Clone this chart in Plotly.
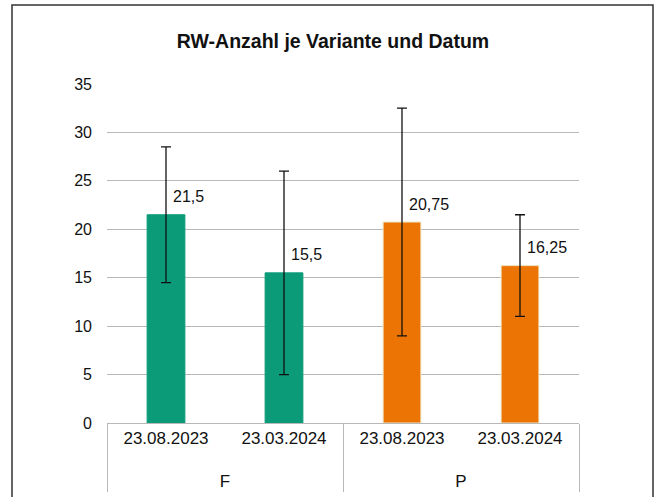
import plotly.graph_objects as go

# Data
groups = ["F", "F", "P", "P"]
dates = ["23.08.2023", "23.03.2024", "23.08.2023", "23.03.2024"]
values = [21.5, 15.5, 20.75, 16.25]
errors = [7.0, 10.5, 11.75, 5.25]
bar_colors = ["#0B9B79", "#0B9B79", "#EC7405", "#EC7405"]
bar_edge = ["#0B9B79", "#0B9B79", "#EDE6C4", "#EDE6C4"]
title_text = "RW-Anzahl je Variante und Datum"
y_ticks = [0, 5, 10, 15, 20, 25, 30, 35]

W, H = 657, 497
L, R, T, B = 107, 579, 84, 423  # plot area in pixels
font = "Liberation Sans, Arial, Helvetica, sans-serif"

# extra blank line under each date pushes the group labels lower
date_labels = [d + "<br> " for d in dates]

fig = go.Figure()
fig.add_trace(go.Bar(
    x=[groups, date_labels],
    y=values,
    width=0.32,
    marker=dict(color=bar_colors, line=dict(color=bar_edge, width=1)),
    error_y=dict(type="data", array=errors, visible=True,
                 color="#111111", thickness=1.3, width=5),
    hoverinfo="skip",
))

for i, v in enumerate(values):
    fig.add_annotation(
        x=i, y=v, xref="x", yref="y",
        text=f"{v:g}".replace(".", ","),
        showarrow=False, xanchor="left", yanchor="middle",
        xshift=5, yshift=18,
        font=dict(family=font, size=16, color="#111111"),
    )

pw, ph = R - L, B - T
fig.add_shape(
    type="rect", xref="paper", yref="paper",
    x0=(12 - L) / pw, x1=(653 - L) / pw,
    y0=(B - 510) / ph, y1=(B - 5) / ph,
    line=dict(color="#333333", width=1.5), fillcolor="rgba(0,0,0,0)",
    layer="above",
)

fig.update_layout(
    width=W, height=H,
    margin=dict(l=L, r=W - R, t=T, b=H - B, pad=0, autoexpand=False),
    paper_bgcolor="white", plot_bgcolor="white",
    separators=", ",
    showlegend=False,
    title=dict(text=f"<b>{title_text}</b>", x=333 / W, xanchor="center",
               y=1 - 41 / H, yanchor="middle",
               font=dict(family=font, size=19.5, color="#111111")),
    font=dict(family=font, size=16, color="#111111"),
)
fig.update_yaxes(
    range=[0, 35], tickvals=y_ticks, showgrid=True, gridcolor="#B8B8B8",
    gridwidth=1, zeroline=False, showline=False, ticks="",
    ticklabelstandoff=14, automargin=False,
    tickfont=dict(family=font, size=16, color="#111111"),
)
fig.update_xaxes(
    type="multicategory", showline=True, linecolor="#B8B8B8", linewidth=1,
    showdividers=True, dividercolor="#B8B8B8", dividerwidth=1,
    ticks="", automargin=False,
    tickfont=dict(family=font, size=17, color="#111111"),
)

fig.write_html(
    "out.html",
    config={"displayModeBar": False},
    post_script="document.body.style.margin='0';document.body.style.overflow='hidden';",
)
